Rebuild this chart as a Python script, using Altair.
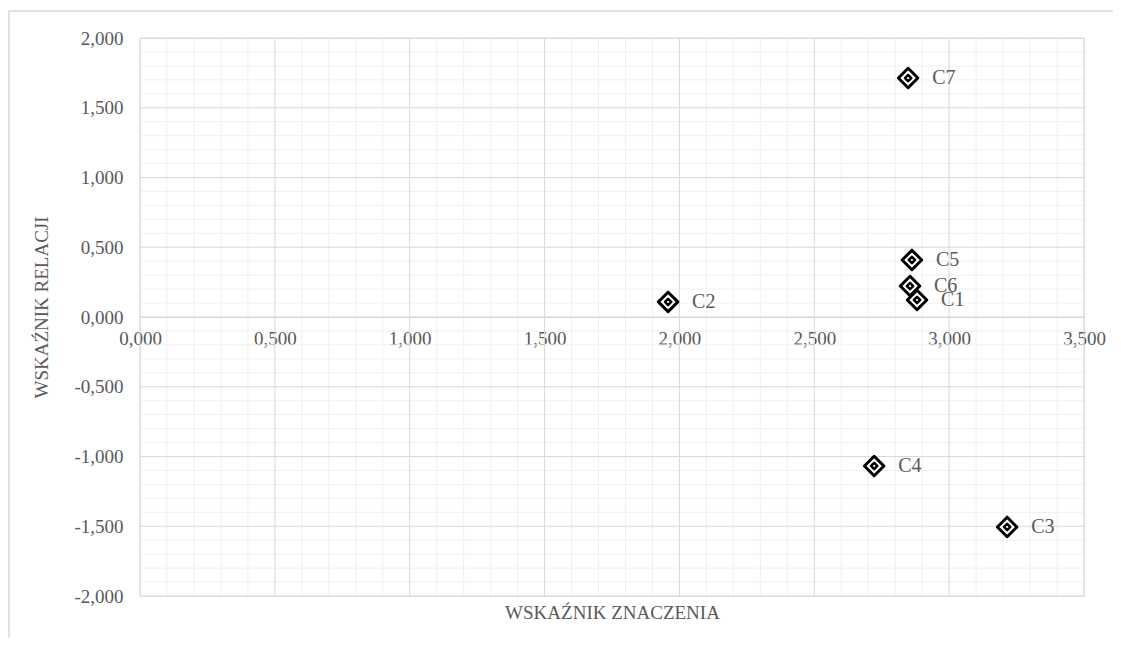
import altair as alt
import pandas as pd

# ---- data ----
labels = ["C1", "C2", "C3", "C4", "C5", "C6", "C7"]
znaczenie = [2.881, 1.958, 3.215, 2.722, 2.862, 2.855, 2.848]   # x
relacja = [0.122, 0.108, -1.505, -1.068, 0.409, 0.222, 1.713]    # y

x_major = [0.0, 0.5, 1.0, 1.5, 2.0, 2.5, 3.0, 3.5]
y_major = [-2.0, -1.5, -1.0, -0.5, 0.0, 0.5, 1.0, 1.5, 2.0]
x_minor = [round(i * 0.1, 1) for i in range(36) if i % 5]
y_minor = [round(-2 + i * 0.1, 1) for i in range(41) if i % 5]

df = pd.DataFrame({"label": labels, "x": znaczenie, "y": relacja})

FONT = "'Liberation Serif', 'Times New Roman', Times, serif"
TXT = "#595959"
xs = alt.Scale(domain=[0, 3.5], nice=False, zero=False)
ys = alt.Scale(domain=[-2, 2], nice=False, zero=False)

fmt = "(datum.value < 0 ? '-' : '') + replace(format(abs(datum.value), '.3f'), '.', ',')"

W, H = 944, 558

xaxis = alt.Axis(
    values=x_major, labelExpr=fmt, grid=False, ticks=False, domain=True,
    domainColor="#d0d0d0", offset=-279, labelPadding=12, labelFlush=False,
    labelOverlap=False, labelFont=FONT, titleFont=FONT,
    title="WSKAŹNIK  ZNACZENIA", titleY=295, titleBaseline="middle",
)
yaxis = alt.Axis(
    values=y_major, labelExpr=fmt, grid=False, ticks=False, domain=False,
    labelPadding=17, labelFlush=False, labelOverlap=False, labelFont=FONT, titleFont=FONT,
    title="WSKAŹNIK RELACJI", titleX=-99, titleY=269, titleAngle=270,
    titleAlign="center", titleBaseline="middle",
)

frame = alt.Chart(pd.DataFrame({"a": [0]})).mark_rect(
    fill=None, stroke="#d9d9d9", strokeWidth=1.5, clip=False
).encode(x=alt.value(-131), x2=alt.value(1200), y=alt.value(-27), y2=alt.value(800))

vminor = alt.Chart(pd.DataFrame({"x": x_minor})).mark_rule(color="#f0f0f0", strokeWidth=1).encode(
    x=alt.X("x:Q", scale=xs, axis=xaxis))
hminor = alt.Chart(pd.DataFrame({"y": y_minor})).mark_rule(color="#f0f0f0", strokeWidth=1).encode(
    y=alt.Y("y:Q", scale=ys, axis=yaxis))
vmajor = alt.Chart(pd.DataFrame({"x": x_major})).mark_rule(color="#d9d9d9", strokeWidth=1).encode(
    x=alt.X("x:Q", scale=xs, axis=xaxis))
hmajor = alt.Chart(pd.DataFrame({"y": y_major})).mark_rule(color="#d9d9d9", strokeWidth=1).encode(
    y=alt.Y("y:Q", scale=ys, axis=yaxis))

base = alt.Chart(df)
enc = dict(x=alt.X("x:Q", scale=xs, axis=xaxis), y=alt.Y("y:Q", scale=ys, axis=yaxis))

outer = base.mark_point(
    shape="diamond", size=380, filled=True, fill="white", stroke="black",
    strokeWidth=3, strokeJoin="round", opacity=1
).encode(**enc)

inner = base.mark_point(
    shape="diamond", size=40, filled=True, fill="white", stroke="black",
    strokeWidth=2.5, strokeJoin="round", opacity=1
).encode(**enc)

text = base.mark_text(
    align="left", baseline="middle", dx=24, font=FONT, fontSize=20, color=TXT
).encode(text="label:N", **enc)

chart = alt.layer(frame, vminor, hminor, vmajor, hmajor, outer, inner, text).properties(
    width=W, height=H,
    autosize=alt.AutoSizeParams(type="none"),
    padding={"left": 132, "top": 30, "right": 29, "bottom": 42},
).configure_view(stroke=None).configure(background="white", font=FONT).configure_axis(
    labelFont=FONT, labelFontSize=19, labelColor=TXT,
    titleFont=FONT, titleFontSize=19, titleColor=TXT, titleFontWeight="normal",
)

chart.save("out.html", embed_options={"renderer": "svg", "actions": False})
